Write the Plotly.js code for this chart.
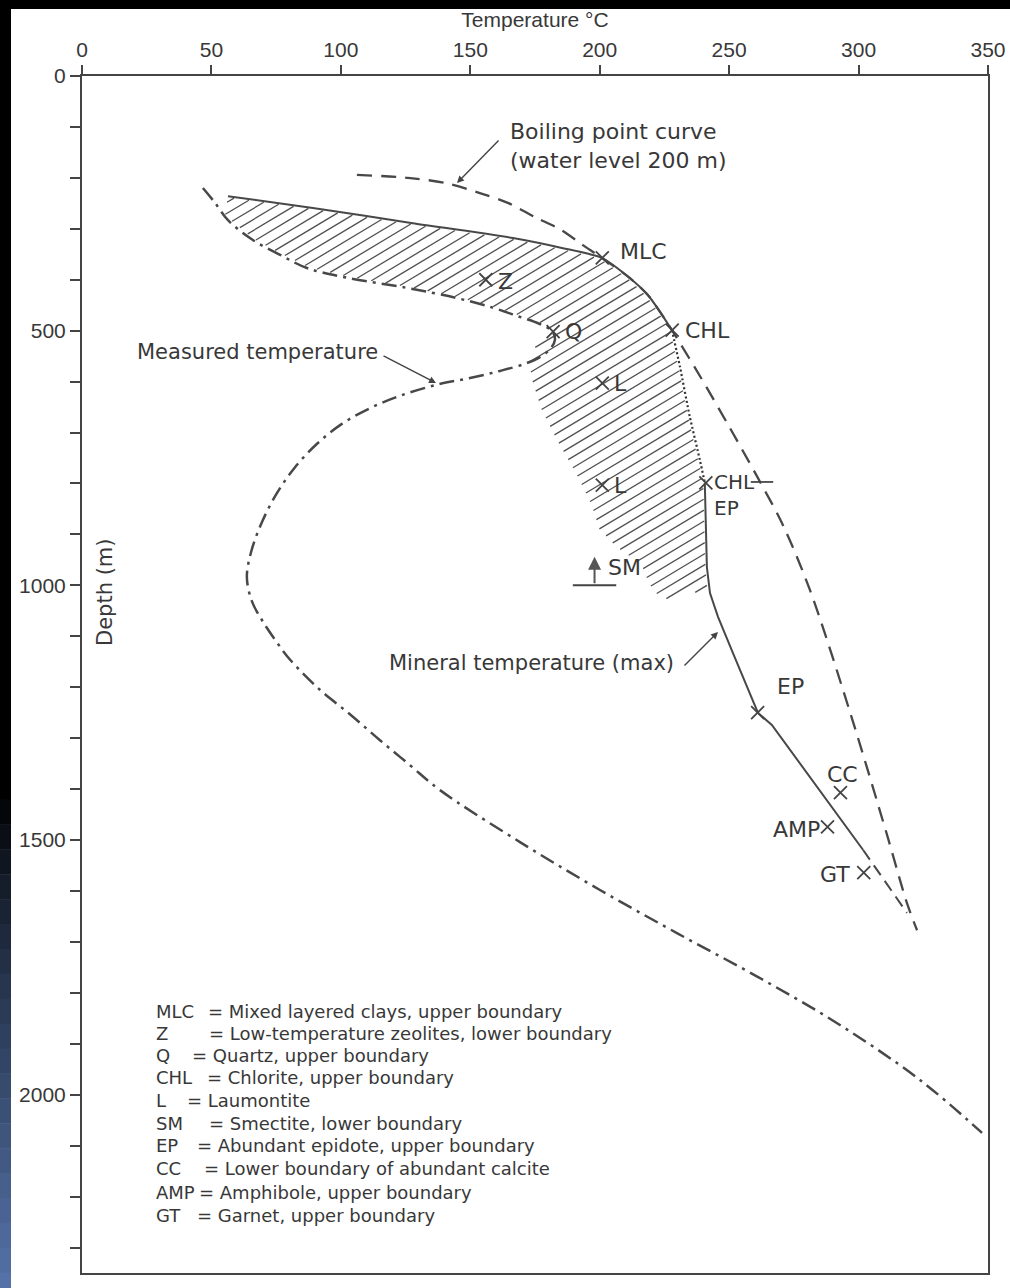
<!DOCTYPE html>
<html><head><meta charset="utf-8">
<script src="https://cdn.plot.ly/plotly-3.0.1.min.js"></script>
<style>html,body{margin:0;padding:0;background:#fff;}#chart{width:1010px;height:1288px;}</style>
</head><body><div id="chart"></div>
<script>
// ---------------- data ----------------
const boilingT = [106.2, 125.9, 140.2, 153.7, 164.5, 175.0, 185.0, 193.5, 200.8, 211.7, 218.6, 223.3, 227.9, 238.7, 250.3, 261.1, 270.8, 281.2, 296.7, 311.0, 318.7, 322.6];
const boilingD = [194, 200, 210, 230, 249, 277, 302, 332, 357, 397, 430, 463, 499, 589, 691, 789, 882, 1009, 1249, 1490, 1624, 1677];
const boilTickT = [262.7];
const boilTickD = [797];

const measuredT = [46.7, 51.4, 56.4, 66.0, 76.5, 86.9, 102.4, 125.5, 144.8, 158.8, 168.0, 176.9, 181.6, 182.7, 180.8, 176.9, 171.1, 161.5, 149.9, 137.1, 122.8, 111.3, 100.4, 90.8, 82.3, 75.3, 69.5, 65.3, 63.7, 65.7, 69.5, 74.6, 80.4, 91.9, 103.5, 115.1, 126.7, 138.3, 169.2, 200.1, 231.0, 261.9, 292.8, 323.7, 347.7];
const measuredD = [220, 249, 283, 322, 351, 377, 396, 416, 436, 455, 471, 487, 501, 518, 536, 552, 565, 579, 593, 606, 628, 652, 683, 722, 768, 819, 876, 935, 985, 1032, 1068, 1107, 1146, 1205, 1253, 1304, 1353, 1402, 1504, 1598, 1686, 1771, 1863, 1971, 2075];

const mineralSolidT = [56.4, 89.2, 127.8, 166.5, 185.8, 200.8, 211.7, 218.6, 223.3, 227.9];
const mineralSolidD = [236, 259, 289, 318, 338, 357, 397, 430, 463, 499];
const mineralDotT = [227.9, 231.0, 234.8, 238.7, 240.6];
const mineralDotD = [499, 571, 669, 754, 799];
const mineralLowerT = [240.6, 241.4, 242.6, 245.7, 251.4, 259.2, 261.1, 266.5, 301.7];
const mineralLowerD = [799, 964, 1015, 1062, 1132, 1225, 1250, 1274, 1519];
const mineralDashT = [301.7, 318.7];
const mineralDashD = [1519, 1643];

const hatchT = [56.4, 89.2, 127.8, 166.5, 185.8, 200.8, 211.7, 218.6, 223.3, 227.9, 231.0, 234.8, 238.7, 240.6, 241.4, 242.2, 223.3, 218.6, 215.5, 205.9, 199.3, 196.2, 190.4, 182.7, 176.9, 173.0, 172.3, 176.9, 181.6, 176.9, 168.0, 158.7, 144.8, 125.5, 102.4, 86.9, 76.5, 66.0, 56.4, 54.1];
const hatchD = [236, 259, 289, 318, 338, 357, 397, 430, 463, 499, 571, 669, 754, 799, 964, 1009, 1030, 999, 960, 926, 891, 842, 783, 714, 656, 593, 548, 520, 503, 487, 471, 455, 436, 416, 396, 377, 351, 322, 283, 269];

const markerLabel = ['MLC', 'Z', 'Q', 'CHL', 'L', 'L', 'CHL<br>EP', 'EP', 'CC', 'AMP', 'GT'];
const markerT = [201, 156, 182, 228, 201, 201, 241, 261, 293, 288, 302];
const markerD = [357, 400, 502, 499, 603, 803, 799, 1250, 1407, 1474, 1564];

const smT = [198];
const smD = [1000];

const xTicks = [0, 50, 100, 150, 200, 250, 300, 350];
const yTicks = [0,100,200,300,400,500,600,700,800,900,1000,1100,1200,1300,1400,1500,1600,1700,1800,1900,2000,2100,2200,2300];
const yTickLabels = ['0','','','','','500','','','','','1000','','','','','1500','','','','','2000','','',''];

const legendAbbr = ['MLC', 'Z', 'Q', 'CHL', 'L', 'SM', 'EP', 'CC', 'AMP', 'GT'];
const legendDesc = ['Mixed layered clays, upper boundary', 'Low-temperature zeolites, lower boundary', 'Quartz, upper boundary', 'Chlorite, upper boundary', 'Laumontite', 'Smectite, lower boundary', 'Abundant epidote, upper boundary', 'Lower boundary of abundant calcite', 'Amphibole, upper boundary', 'Garnet, upper boundary'];

// ---------------- layout geometry ----------------
const W = 1010, H = 1288;
const L = 82, R = 988, TOP = 76, BOT = 1273;
const X_MAX = 350, Y_MAX = 2350;
const tx = px => (px - L) / (R - L) * X_MAX;
const dy = py => (py - TOP) / (BOT - TOP) * Y_MAX;
const toPx = (T, D) => [L + T / X_MAX * (R - L), TOP + D / Y_MAX * (BOT - TOP)];
const paperX = px => (px - L) / (R - L);
const paperY = py => (BOT - py) / (BOT - TOP);

const INK = '#484848';
const TXT = '#383838';
const FAM = 'DejaVu Sans, Liberation Sans, Arial';
const LABEL_FONT = {family: FAM, size: 22, color: TXT};
const LONG_FONT = {family: FAM, size: 21, color: TXT};
const LEG_FONT = {family: FAM, size: 18, color: TXT};
const TICK_FONT = {family: 'Liberation Sans, Arial', size: 21, color: TXT};

// ---------------- hatching: parallel strokes clipped to the hatch polygon ----------------
function hatchLines(polyT, polyD, slope, spacing) {
  const poly = polyT.map((t, i) => toPx(t, polyD[i]));
  const cs = poly.map(p => p[1] - slope * p[0]);
  const cMin = Math.min(...cs), cMax = Math.max(...cs);
  const hx = [], hy = [];
  for (let c = cMin + spacing / 2; c < cMax; c += spacing) {
    const xs = [];
    for (let i = 0; i < poly.length; i++) {
      const p = poly[i], q = poly[(i + 1) % poly.length];
      const fp = p[1] - slope * p[0] - c, fq = q[1] - slope * q[0] - c;
      if ((fp < 0 && fq >= 0) || (fp >= 0 && fq < 0)) {
        const t = fp / (fp - fq);
        xs.push(p[0] + t * (q[0] - p[0]));
      }
    }
    xs.sort((a, b) => a - b);
    for (let k = 0; k + 1 < xs.length; k += 2) {
      const x0 = xs[k] + 1.5, x1 = xs[k + 1] - 1.5;
      if (x1 <= x0) continue;
      hx.push(tx(x0), tx(x1), null);
      hy.push(dy(slope * x0 + c), dy(slope * x1 + c), null);
    }
  }
  return [hx, hy];
}
const [hatchX, hatchY] = hatchLines(hatchT, hatchD, -0.6, 11);

const traces = [
  {type: 'scatter', mode: 'lines', x: hatchX, y: hatchY, connectgaps: false,
   line: {color: '#505050', width: 1.3}, hoverinfo: 'skip', showlegend: false},
  {type: 'scatter', mode: 'lines', x: boilingT, y: boilingD,
   line: {color: INK, width: 2.3, dash: '15px,9px', shape: 'spline', smoothing: 0.9}, showlegend: false},
  {type: 'scatter', mode: 'markers', x: boilTickT, y: boilTickD,
   marker: {symbol: 'line-ew', size: 16, line: {color: INK, width: 1.8}}, showlegend: false},
  {type: 'scatter', mode: 'lines', x: measuredT, y: measuredD,
   line: {color: INK, width: 2.5, dash: '15px,6px,3px,6px', shape: 'spline', smoothing: 1}, showlegend: false},
  {type: 'scatter', mode: 'lines', x: mineralSolidT, y: mineralSolidD,
   line: {color: INK, width: 2, shape: 'spline', smoothing: 0.6}, showlegend: false},
  {type: 'scatter', mode: 'lines', x: mineralDotT, y: mineralDotD,
   line: {color: '#333', width: 2.2, dash: '2px,2.5px', shape: 'spline', smoothing: 0.6}, showlegend: false},
  {type: 'scatter', mode: 'lines', x: mineralLowerT, y: mineralLowerD,
   line: {color: INK, width: 2, shape: 'linear'}, showlegend: false},
  {type: 'scatter', mode: 'lines', x: mineralDashT, y: mineralDashD,
   line: {color: INK, width: 2, dash: '12px,7px'}, showlegend: false},
  {type: 'scatter', mode: 'markers', x: markerT, y: markerD, text: markerLabel,
   marker: {symbol: 'x-thin', size: 13, line: {color: '#444', width: 1.8}}, showlegend: false},
  {type: 'scatter', mode: 'markers', x: smT, y: smD,
   marker: {symbol: 'line-ew', size: 31, line: {color: '#444', width: 2}}, showlegend: false}
];

// label offsets (pixels) for each marker label
const labelCfg = [
  {xa: 'left', ya: 'middle', xs: 16, ys: 6},   // MLC
  {xa: 'left', ya: 'middle', xs: 10, ys: -2},  // Z
  {xa: 'left', ya: 'middle', xs: 10, ys: 0},   // Q
  {xa: 'left', ya: 'middle', xs: 11, ys: 0},   // CHL
  {xa: 'left', ya: 'middle', xs: 10, ys: 0},   // L
  {xa: 'left', ya: 'middle', xs: 10, ys: 0},   // L
  {xa: 'left', ya: 'top', xs: 6, ys: 15},      // CHL / EP
  {xa: 'left', ya: 'middle', xs: 17, ys: 26},  // EP
  {xa: 'center', ya: 'middle', xs: 2, ys: 18}, // CC
  {xa: 'right', ya: 'middle', xs: -6, ys: -3}, // AMP
  {xa: 'right', ya: 'middle', xs: -12, ys: -2} // GT
];

const annotations = [];
markerLabel.forEach((t, i) => {
  const f = (i === 6) ? {...LABEL_FONT, size: 20} : LABEL_FONT;
  annotations.push({x: markerT[i], y: markerD[i], xref: 'x', yref: 'y', text: t, showarrow: false, align: 'left',
    xanchor: labelCfg[i].xa, yanchor: labelCfg[i].ya, xshift: labelCfg[i].xs, yshift: labelCfg[i].ys, font: f});
});
// SM label and arrow
annotations.push({x: smT[0], y: smD[0], xref: 'x', yref: 'y', text: 'SM', showarrow: false,
  xanchor: 'left', yanchor: 'middle', xshift: 11, yshift: 18, font: LABEL_FONT});
annotations.push({x: smT[0], y: smD[0] - 56, xref: 'x', yref: 'y', text: '', showarrow: true,
  ax: 0, ay: 28, arrowhead: 2, arrowsize: 1.3, arrowwidth: 2, arrowcolor: '#555'});

// curve captions
annotations.push({x: paperX(508), y: paperY(146), xref: 'paper', yref: 'paper', xanchor: 'left', yanchor: 'middle',
  text: 'Boiling point curve<br>(water level 200 m)', align: 'left', showarrow: false, font: {...LONG_FONT, size: 22}});
annotations.push({x: tx(457), y: dy(183), ax: tx(500), ay: dy(139), xref: 'x', yref: 'y', axref: 'x', ayref: 'y',
  text: '', showarrow: true, arrowhead: 2, arrowsize: 1, arrowwidth: 1.4, arrowcolor: '#444'});

annotations.push({x: paperX(135), y: paperY(352), xref: 'paper', yref: 'paper', xanchor: 'left', yanchor: 'middle',
  text: 'Measured temperature', showarrow: false, font: LONG_FONT});
annotations.push({x: tx(436), y: dy(383), ax: tx(382), ay: dy(355), xref: 'x', yref: 'y', axref: 'x', ayref: 'y',
  text: '', showarrow: true, arrowhead: 2, arrowsize: 1, arrowwidth: 1.4, arrowcolor: '#444'});

annotations.push({x: paperX(387), y: paperY(663), xref: 'paper', yref: 'paper', xanchor: 'left', yanchor: 'middle',
  text: 'Mineral temperature (max)', showarrow: false, font: LONG_FONT});
annotations.push({x: tx(718), y: dy(632), ax: tx(683), ay: dy(667), xref: 'x', yref: 'y', axref: 'x', ayref: 'y',
  text: '', showarrow: true, arrowhead: 2, arrowsize: 1, arrowwidth: 1.4, arrowcolor: '#444'});

// Depth label inside the frame
annotations.push({x: paperX(105), y: paperY(593), xref: 'paper', yref: 'paper', xanchor: 'center', yanchor: 'middle',
  text: 'Depth (m)', textangle: -90, showarrow: false, font: {...LONG_FONT, size: 21}});

// key
const legY = [1011, 1033, 1055, 1077, 1100, 1123, 1145, 1168, 1192, 1215];
const legEqX = [206, 207, 190, 205, 185, 207, 195, 202, 197, 195];
legendAbbr.forEach((a, i) => {
  annotations.push({x: paperX(154), y: paperY(legY[i]), xref: 'paper', yref: 'paper', xanchor: 'left', yanchor: 'middle',
    text: a, showarrow: false, font: LEG_FONT});
  annotations.push({x: paperX(legEqX[i]), y: paperY(legY[i]), xref: 'paper', yref: 'paper', xanchor: 'left', yanchor: 'middle',
    text: '= ' + legendDesc[i], showarrow: false, font: LEG_FONT});
});

// slide background strips (black top bar, left dark-to-blue strip)
const shapes = [];
const pxL = paperX(-20), pxR = paperX(W + 20);
shapes.push({type: 'rect', xref: 'paper', yref: 'paper', x0: pxL, x1: pxR, y0: paperY(9), y1: paperY(-20),
  fillcolor: '#000', line: {width: 0}, layer: 'above'});
shapes.push({type: 'rect', xref: 'paper', yref: 'paper', x0: pxL, x1: paperX(11), y0: paperY(800), y1: paperY(-20),
  fillcolor: '#000', line: {width: 0}, layer: 'above'});
const c0 = [0, 0, 0], c1 = [86, 116, 170];
const bands = 20;
for (let b = 0; b < bands; b++) {
  const p0 = 800 + (H + 10 - 800) * b / bands, p1 = 800 + (H + 10 - 800) * (b + 1) / bands;
  const f = Math.pow((b + 0.5) / bands, 0.8);
  const col = 'rgb(' + c0.map((v, k) => Math.round(v + (c1[k] - v) * f)).join(',') + ')';
  shapes.push({type: 'rect', xref: 'paper', yref: 'paper', x0: pxL, x1: paperX(11), y0: paperY(p1), y1: paperY(p0 - 0.5),
    fillcolor: col, line: {width: 0}, layer: 'above'});
}

const layout = {
  width: W, height: H,
  margin: {l: L, r: W - R, t: TOP, b: H - BOT, pad: 0},
  paper_bgcolor: '#fff', plot_bgcolor: '#fff',
  showlegend: false,
  xaxis: {
    side: 'top', range: [0, X_MAX], tickvals: xTicks, ticktext: xTicks.map(String),
    ticks: 'outside', ticklen: 9, tickwidth: 2, tickcolor: '#444',
    showline: true, linewidth: 2, linecolor: '#444', mirror: true,
    showgrid: false, zeroline: false, tickfont: TICK_FONT,
    title: {text: 'Temperature °C', font: {family: 'Liberation Sans, Arial', size: 21, color: TXT}, standoff: 4}
  },
  yaxis: {
    range: [Y_MAX, 0], tickvals: yTicks, ticktext: yTickLabels,
    ticks: 'outside', ticklen: 10, tickwidth: 2, tickcolor: '#444',
    showline: true, linewidth: 2, linecolor: '#444', mirror: true,
    showgrid: false, zeroline: false, tickfont: TICK_FONT
  },
  annotations: annotations,
  shapes: shapes
};

Plotly.newPlot('chart', traces, layout, {displayModeBar: false, staticPlot: true});
</script></body></html>
